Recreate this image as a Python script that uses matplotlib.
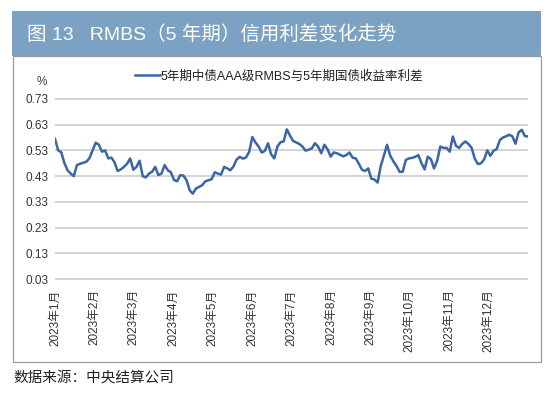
import numpy as np
import matplotlib
matplotlib.use('Agg')
import matplotlib.pyplot as plt
from matplotlib.patches import Rectangle

plt.rcParams['font.family'] = ['Liberation Sans', 'Noto Sans CJK SC', 'DejaVu Sans']

# 5年期中债AAA级RMBS与5年期国债收益率利差（%），2023年全年，约每1.5个交易日取一点
spread = [
    0.575, 0.530, 0.523, 0.481, 0.453, 0.440, 0.430, 0.473, 0.478, 0.482,
    0.486, 0.500, 0.530, 0.560, 0.552, 0.525, 0.530, 0.499, 0.502, 0.484,
    0.450, 0.456, 0.466, 0.478, 0.499, 0.455, 0.466, 0.490, 0.430, 0.425,
    0.440, 0.447, 0.466, 0.434, 0.440, 0.473, 0.453, 0.445, 0.415, 0.410,
    0.434, 0.432, 0.414, 0.375, 0.362, 0.382, 0.388, 0.395, 0.410, 0.414,
    0.418, 0.445, 0.440, 0.436, 0.466, 0.460, 0.453, 0.468, 0.495, 0.505,
    0.498, 0.503, 0.525, 0.582, 0.561, 0.545, 0.522, 0.528, 0.558, 0.515,
    0.499, 0.545, 0.562, 0.565, 0.612, 0.588, 0.567, 0.561, 0.555, 0.545,
    0.529, 0.533, 0.538, 0.558, 0.545, 0.519, 0.552, 0.535, 0.506, 0.522,
    0.519, 0.513, 0.507, 0.512, 0.522, 0.502, 0.499, 0.478, 0.455, 0.450,
    0.460, 0.420, 0.417, 0.405, 0.470, 0.510, 0.552, 0.510, 0.488, 0.470,
    0.447, 0.447, 0.493, 0.499, 0.501, 0.505, 0.512, 0.480, 0.456, 0.506,
    0.496, 0.460, 0.490, 0.545, 0.540, 0.540, 0.525, 0.584, 0.548, 0.540,
    0.555, 0.565, 0.555, 0.540, 0.498, 0.477, 0.480, 0.495, 0.530, 0.509,
    0.529, 0.535, 0.570, 0.580, 0.585, 0.591, 0.585, 0.556, 0.600, 0.610,
    0.586, 0.584,
]
month_labels = ['2023年%d月' % m for m in range(1, 13)]
y_ticks = [0.03, 0.13, 0.23, 0.33, 0.43, 0.53, 0.63, 0.73]

title = '图 13   RMBS（5 年期）信用利差变化走势'
legend_label = '5年期中债AAA级RMBS与5年期国债收益率利差'
source = '数据来源：中央结算公司'

W, H = 550, 395
fig = plt.figure(figsize=(W / 100, H / 100), dpi=100)
fig.patch.set_facecolor('white')


def fx(px):
    return px / W


def fy(py):
    return 1 - py / H


# 标题栏
fig.patches.append(Rectangle((fx(12), fy(56)), fx(541 - 12), 45 / H,
                             transform=fig.transFigure, facecolor='#7ba2c2',
                             edgecolor='none', zorder=0))
fig.text(fx(27), fy(35), title, color='white', fontsize=14, va='center', ha='left')

# 图框
fig.patches.append(Rectangle((fx(12.5), fy(362)), fx(541 - 12.5), (362 - 56) / H,
                             transform=fig.transFigure, facecolor='none',
                             edgecolor='#9a9a9a', linewidth=0.9, zorder=0))

ax = fig.add_axes([fx(55), fy(280.3), fx(528 - 55), (280.3 - 97.7) / H])
x = np.arange(len(spread))
line, = ax.plot(x, spread, color='#3b66a6', linewidth=1.8, solid_joinstyle='round')

ax.set_xlim(0, len(spread) - 1)
ax.set_ylim(0.025, 0.735)
ax.set_yticks(y_ticks)
ax.set_yticklabels(['%.2f' % v for v in y_ticks])
ax.yaxis.grid(True, color='#d4d4d4', linewidth=1.4)
ax.set_axisbelow(True)

tick_pos = np.arange(12) * (len(spread) - 1) / 12
ax.set_xticks(tick_pos)
ax.set_xticklabels(month_labels, rotation=90, va='top', ha='center')

for s in ax.spines.values():
    s.set_visible(False)
ax.tick_params(axis='both', length=0, colors='#333333', labelsize=8.5)
ax.tick_params(axis='x', pad=6.5)
ax.tick_params(axis='y', pad=5)

fig.text(fx(42), fy(82), '%', fontsize=8.5, color='#444444', ha='center', va='center')

fig.legend([line], [legend_label], loc='center', bbox_to_anchor=(fx(279), fy(76)),
           frameon=False, fontsize=9, handlelength=2.0, handletextpad=0.0,
           borderpad=0, labelcolor='#222222')

fig.text(fx(13), fy(378), source, fontsize=10.5, color='#222222', ha='left', va='center')

fig.savefig('out.png', dpi=100, facecolor='white')
